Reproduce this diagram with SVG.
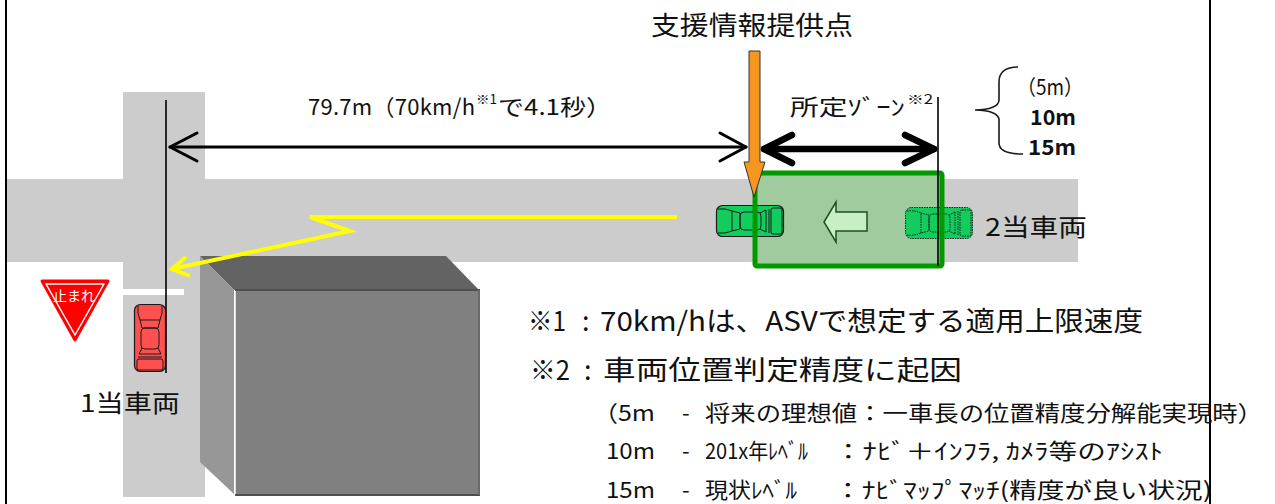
<svg xmlns="http://www.w3.org/2000/svg" xmlns:xlink="http://www.w3.org/1999/xlink" width="1275" height="504" viewBox="0 0 1275 504">
  <style>
    text { font-family: "Noto Sans CJK JP", "Liberation Sans", sans-serif; fill: #111111; }
    .road { fill: #cccccc; }
    .frame { stroke: #000; stroke-width: 2; fill: none; }
    .thin { stroke: #000; stroke-width: 1.6; fill: none; }
    .dim { stroke: #000; stroke-width: 3; fill: none; stroke-linecap: round; stroke-linejoin: round; }
    .zone-dim { stroke: #000; stroke-width: 6.5; fill: none; stroke-linecap: round; stroke-linejoin: round; }
    .track { stroke: #ffff00; stroke-width: 4; fill: none; stroke-linejoin: miter; }
    .car-line { fill: none; stroke: #1a1a1a; stroke-width: 1; }
    .note1 { font-size: 27px; }
    .note2 { font-size: 22px; }
  </style>
  <defs>
    <!-- top view of a car, nose at the left, 68 x 32 -->
    <g id="car">
      <rect x="0.5" y="0.5" width="67" height="31" rx="6"/>
      <path class="car-line" d="M2,4 Q9,3 16,6 M2,28 Q9,29 16,26 M16,6 L24,8 L24,24 L16,26 Z M44,8 L50,5 M44,24 L50,27 M50,5 L50,27 M53,4 L53,28"/>
      <rect x="24" y="7" width="21" height="18" rx="4" class="car-line"/>
      <rect x="55" y="3" width="11" height="26" rx="2" class="car-line"/>
    </g>
  </defs>

  <!-- frame lines -->
  <line class="frame" x1="6" y1="0" x2="6" y2="504"/>
  <line class="frame" x1="1210" y1="0" x2="1210" y2="504"/>

  <!-- roads -->
  <g id="roads">
    <rect class="road" x="123" y="92" width="82" height="405"/>
    <rect class="road" x="7" y="179" width="1071" height="83"/>
    <rect x="123" y="289" width="61" height="6" fill="#ffffff"/>
  </g>

  <!-- building -->
  <g id="building">
    <polygon points="200,256 446,256 479,290 234,290" fill="#636363"/>
    <polygon points="200,256 234,290 234,494 200,462" fill="#979797"/>
    <rect x="235" y="290" width="245" height="205" fill="#808080"/>
    <line x1="235" y1="290" x2="480" y2="290" stroke="#4f4f4f" stroke-width="2"/>
    <line x1="235" y1="495" x2="480" y2="495" stroke="#4f4f4f" stroke-width="2"/>
    <line x1="479" y1="290" x2="479" y2="495" stroke="#6a6a6a" stroke-width="2"/>
    <line x1="235" y1="291" x2="235" y2="494" stroke="#ffffff" stroke-width="1.5"/>
  </g>

  <!-- stop sign -->
  <g id="stop-sign">
    <polygon points="42,281 108,281 75,340" fill="#ff0000" stroke="#ff0000" stroke-width="3" stroke-linejoin="round"/>
    <polygon points="46,284 104,284 75,335" fill="none" stroke="#ffffff" stroke-width="1.5" stroke-linejoin="round"/>
    <text x="53" y="301" font-size="14" textLength="42" lengthAdjust="spacingAndGlyphs" style="fill:#ffffff">止まれ</text>
  </g>

  <!-- advisory zone fill -->
  <rect x="755" y="173" width="187" height="93" fill="#9fcb9e"/>

  <!-- vehicle 1 -->
  <g id="vehicle1">
    <use xlink:href="#car" href="#car" transform="translate(166,304) rotate(90)" fill="#ff5050" stroke="#1a1a1a" stroke-width="1.2"/>
    <text x="80" y="412" font-size="24" textLength="100" lengthAdjust="spacingAndGlyphs">1当車両</text>
  </g>

  <!-- vehicle 2, current and earlier position -->
  <g id="vehicle2">
    <use xlink:href="#car" href="#car" transform="translate(716,205)" fill="#12cc5e" stroke="#1a1a1a" stroke-width="1.2"/>
    <use xlink:href="#car" href="#car" transform="translate(905,207)" fill="#12cc5e" stroke="#1a1a1a" stroke-width="1" stroke-dasharray="1.5 1"/>
    <text x="985" y="236" font-size="24" textLength="102" lengthAdjust="spacingAndGlyphs">2当車両</text>
  </g>

  <!-- travel direction inside zone -->
  <polygon id="zone-arrow" points="824,222 836,202 836,212 867,212 867,231 836,231 836,242" fill="#c6efc6" stroke="#1f4f1f" stroke-width="1.5" stroke-linejoin="miter"/>

  <!-- advisory zone outline -->
  <g id="zone">
    <rect x="755" y="173" width="187" height="93" rx="2" fill="none" stroke="#009900" stroke-width="5"/>
  </g>

  <g id="connectors">
    <!-- path of vehicle 2 -->
    <polyline class="track" points="677,217 310,217 350,231 172,269"/>
    <polyline class="track" points="186,257 172,269 190,276"/>
    <!-- stop line reference -->
    <line class="thin" x1="166" y1="100" x2="166" y2="373"/>
    <!-- distance to the advisory point -->
    <line class="dim" x1="170" y1="147" x2="746" y2="147"/>
    <polyline class="dim" points="197,133 170,147 197,161"/>
    <polyline class="dim" points="720,133 746,147 720,161"/>
    <!-- zone length -->
    <line class="thin" x1="938" y1="97" x2="938" y2="266"/>
    <line class="zone-dim" x1="764" y1="149" x2="934" y2="149"/>
    <polyline class="zone-dim" points="792,135 764,149 792,163"/>
    <polyline class="zone-dim" points="905,135 934,149 905,163"/>
    <!-- brace -->
    <path d="M1018,67 C1005,67 999,72 999,82 L999,100 C999,106 990,110 975,110 C990,110 999,114 999,120 L999,143 C999,150 1006,154 1023,154" fill="none" stroke="#1a1a1a" stroke-width="1.6"/>
  </g>

  <!-- advisory point -->
  <g id="advisory-point">
    <path d="M749,51 L760,51 L760,162 L765,162 L754,197 L744,162 L749,162 Z" fill="#f5961e" stroke="#333333" stroke-width="1"/>
    <text x="651" y="35" font-size="26" textLength="202" lengthAdjust="spacingAndGlyphs">支援情報提供点</text>
  </g>

  <!-- dimension labels -->
  <g id="labels">
    <text x="308" y="115" font-size="22" textLength="167" lengthAdjust="spacing">79.7m（70km/h</text>
    <text x="476" y="104" font-size="13" textLength="21" lengthAdjust="spacingAndGlyphs">※1</text>
    <text x="498" y="115" font-size="22" textLength="114" lengthAdjust="spacingAndGlyphs">で4.1秒）</text>
    <text x="790" y="115" font-size="22" textLength="115" lengthAdjust="spacingAndGlyphs">所定ｿﾞｰﾝ</text>
    <text x="907" y="104" font-size="13" textLength="26" lengthAdjust="spacingAndGlyphs">※2</text>
    <text x="1017" y="95" font-size="21" textLength="66" lengthAdjust="spacingAndGlyphs">（5m）</text>
    <text x="1030" y="125" font-size="21" font-weight="bold" textLength="46" lengthAdjust="spacingAndGlyphs">10m</text>
    <text x="1028" y="155" font-size="21" font-weight="bold" textLength="48" lengthAdjust="spacingAndGlyphs">15m</text>
  </g>

  <!-- notes -->
  <g id="notes">
    <text class="note1" x="528" y="331" textLength="38" lengthAdjust="spacingAndGlyphs">※1</text>
    <text class="note1" x="582" y="331">:</text>
    <text class="note1" x="600" y="331" textLength="543" lengthAdjust="spacingAndGlyphs">70km/hは、ASVで想定する適用上限速度</text>
    <text class="note1" x="530" y="380" textLength="40" lengthAdjust="spacingAndGlyphs">※2</text>
    <text class="note1" x="584" y="380">:</text>
    <text class="note1" x="603" y="380" textLength="359" lengthAdjust="spacingAndGlyphs">車両位置判定精度に起因</text>

    <text class="note2" x="593" y="421" textLength="62" lengthAdjust="spacingAndGlyphs">（5m</text>
    <text class="note2" x="682" y="421">-</text>
    <text class="note2" x="705" y="421" textLength="558" lengthAdjust="spacingAndGlyphs">将来の理想値：一車長の位置精度分解能実現時）</text>

    <text class="note2" x="606" y="459" textLength="49" lengthAdjust="spacingAndGlyphs">10m</text>
    <text class="note2" x="682" y="459">-</text>
    <text class="note2" x="705" y="459" textLength="103" lengthAdjust="spacingAndGlyphs">201x年ﾚﾍﾞﾙ</text>
    <text class="note2" x="834" y="459" textLength="329" lengthAdjust="spacingAndGlyphs">：ﾅﾋﾞ＋ｲﾝﾌﾗ, ｶﾒﾗ等のｱｼｽﾄ</text>

    <text class="note2" x="606" y="498" textLength="49" lengthAdjust="spacingAndGlyphs">15m</text>
    <text class="note2" x="682" y="498">-</text>
    <text class="note2" x="705" y="498" textLength="92" lengthAdjust="spacingAndGlyphs">現状ﾚﾍﾞﾙ</text>
    <text class="note2" x="834" y="498" textLength="378" lengthAdjust="spacingAndGlyphs">：ﾅﾋﾞﾏｯﾌﾟﾏｯﾁ(精度が良い状況)</text>
  </g>
</svg>
